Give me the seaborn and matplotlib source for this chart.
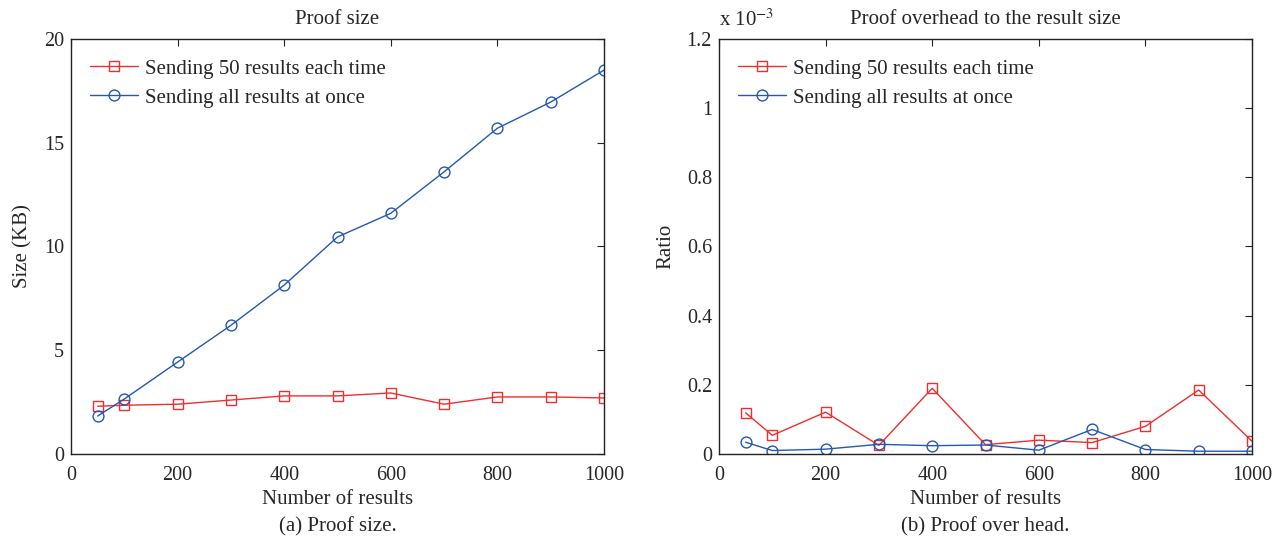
import matplotlib
matplotlib.use("Agg")
import matplotlib.pyplot as plt
import seaborn as sns
import pandas as pd

# ---- data ----
n_results = [50, 100, 200, 300, 400, 500, 600, 700, 800, 900, 1000]
size_50_each = [2.30, 2.35, 2.40, 2.60, 2.80, 2.80, 2.94, 2.40, 2.75, 2.75, 2.70]
size_all_once = [1.83, 2.65, 4.43, 6.20, 8.14, 10.46, 11.60, 13.60, 15.70, 16.96, 18.50]
# ratio values in units of 1e-3
ratio_50_each = [0.119, 0.054, 0.121, 0.025, 0.190, 0.027, 0.040, 0.033, 0.080, 0.185, 0.037]
ratio_all_once = [0.034, 0.010, 0.014, 0.028, 0.024, 0.026, 0.011, 0.071, 0.013, 0.008, 0.008]
series_names = ["Sending 50 results each time", "Sending all results at once"]
x_ticks = [0, 200, 400, 600, 800, 1000]
left_yticks = [0, 5, 10, 15, 20]
right_yticks = [0, 0.2, 0.4, 0.6, 0.8, 1.0, 1.2]
right_yticklabels = ["0", "0.2", "0.4", "0.6", "0.8", "1", "1.2"]

sns.set_theme(style="white")
plt.rcParams["font.family"] = ["Liberation Serif", "DejaVu Serif"]
plt.rcParams["mathtext.fontset"] = "stix"
plt.rcParams["xtick.direction"] = "in"
plt.rcParams["ytick.direction"] = "in"

RED = "#ef2e2e"
BLUE = "#2458b0"
FS = 15
TFS = 14.5

W, H = 1273, 541
fig = plt.figure(figsize=(W / 100, H / 100), dpi=100)
L1, R1 = 71, 604
L2, R2 = 719, 1252
TOP, BOT = 39, 454
ax1 = fig.add_axes([L1 / W, 1 - BOT / H, (R1 - L1) / W, (BOT - TOP) / H])
ax2 = fig.add_axes([L2 / W, 1 - BOT / H, (R2 - L2) / W, (BOT - TOP) / H])

df1 = pd.DataFrame({"x": n_results * 2,
                    "y": size_50_each + size_all_once,
                    "s": [series_names[0]] * len(n_results) + [series_names[1]] * len(n_results)})
df2 = pd.DataFrame({"x": n_results * 2,
                    "y": ratio_50_each + ratio_all_once,
                    "s": [series_names[0]] * len(n_results) + [series_names[1]] * len(n_results)})

for ax, df in [(ax1, df1), (ax2, df2)]:
    for name, col, mk, ms in [(series_names[0], RED, "s", 6.6), (series_names[1], BLUE, "o", 7.8)]:
        sub = df[df["s"] == name]
        sns.lineplot(data=sub, x="x", y="y", ax=ax, color=col, marker=mk,
                     markersize=ms, markerfacecolor="none", markeredgecolor=col,
                     markeredgewidth=1.0, linewidth=1.0, label=name, estimator=None)
    ax.set_xlim(0, 1000)
    ax.set_xticks(x_ticks)
    ax.set_xticklabels([str(t) for t in x_ticks], fontsize=TFS)
    ax.set_xlabel("Number of results", fontsize=FS, labelpad=3)
    ax.tick_params(top=True, right=True, length=5, width=0.8, color="#222222",
                   labelsize=TFS, pad=5)
    ax.tick_params(axis="x", pad=9)
    for sp in ax.spines.values():
        sp.set_color("#222222")
        sp.set_linewidth(1.0)
    ax.legend(loc="upper left", frameon=False, fontsize=FS, handlelength=2.3,
              borderaxespad=0.0, borderpad=0.0, handletextpad=0.35, labelspacing=0.46,
              bbox_to_anchor=(19 / 533, 1 - 20 / 415))

ax1.set_ylim(0, 20)
ax1.set_yticks(left_yticks)
ax1.set_yticklabels([str(t) for t in left_yticks], fontsize=TFS)
ax1.set_ylabel("Size (KB)", fontsize=FS, labelpad=8)
ax1.set_title("Proof size", fontsize=FS, pad=11)

ax2.set_ylim(0, 1.2)
ax2.set_yticks(right_yticks)
ax2.set_yticklabels(right_yticklabels, fontsize=TFS)
ax2.set_ylabel("Ratio", fontsize=FS, labelpad=8)
ax2.set_title("Proof overhead to the result size", fontsize=FS, pad=11)
ax2.text(0.0, 1.02, r"x 10$^{-3}$", transform=ax2.transAxes, fontsize=FS,
         ha="left", va="bottom")

fig.text((L1 + R1) / 2 / W, 1 - 527 / H, "(a) Proof size.", ha="center", va="center", fontsize=FS)
fig.text((L2 + R2) / 2 / W, 1 - 527 / H, "(b) Proof over head.", ha="center", va="center", fontsize=FS)

fig.savefig("out.png", dpi=100, facecolor="white")
